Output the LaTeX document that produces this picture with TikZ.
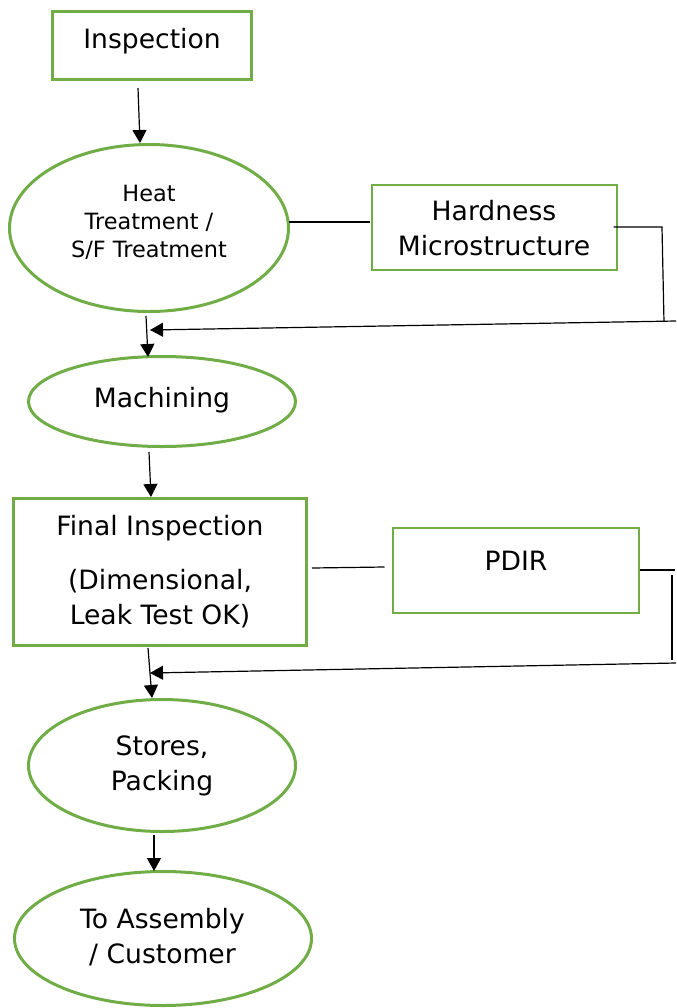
\documentclass[tikz,border=0pt]{standalone}
\usepackage{fontspec}
\setmainfont{DejaVu Sans}
\usetikzlibrary{shapes.geometric,arrows.meta}
\definecolor{leaf}{HTML}{70AD47}
\tikzset{
  % one unit = one grid step, y grows downward
  box/.style={draw=leaf, line width=1.5pt, rectangle, inner sep=0pt},
  thinbox/.style={draw=leaf, line width=1pt, rectangle, inner sep=0pt},
  oval/.style={draw=leaf, line width=1.5pt, ellipse, inner sep=0pt},
  txt/.style={align=center, inner sep=0pt, font=\fontsize{13.3}{17.5}\selectfont},
  smalltxt/.style={align=center, inner sep=0pt, font=\fontsize{11.2}{14}\selectfont},
  link/.style={draw=black, line width=0.6pt},
  arr/.style={link, -{Triangle[length=6.5pt,width=7pt]}}
}
\begin{document}
\begin{tikzpicture}[x=0.5pt, y=-0.5pt]
\useasboundingbox (0,0) rectangle (676,1008);

% process shapes
\node[box, minimum width=99.5pt, minimum height=34pt] (insp) at (152,45.5) {};
\node[oval, minimum width=139.5pt, minimum height=83.5pt] (heat) at (149,228) {};
\node[thinbox, minimum width=122.5pt, minimum height=42.5pt] (hard) at (494,227) {};
\node[oval, minimum width=133.5pt, minimum height=45pt] (mach) at (162,401.5) {};
\node[box, minimum width=146.5pt, minimum height=73.5pt] (final) at (160,572) {};
\node[thinbox, minimum width=123pt, minimum height=42.5pt] (pdir) at (515.5,570) {};
\node[oval, minimum width=133.5pt, minimum height=66pt] (stores) at (162,765.5) {};
\node[oval, minimum width=148.5pt, minimum height=67pt] (asm) at (163,938.5) {};

% labels (placed on the baseline of their last line)
\node[txt, anchor=base] (insptxt) at (152,48) {Inspection};
\node[smalltxt, anchor=base] (heattxt) at (149,257) {Heat\\Treatment /\\S/F Treatment};
\node[txt, anchor=base] (hardtxt) at (494,255) {Hardness\\Microstructure};
\node[txt, anchor=base] (machtxt) at (162,407) {Machining};
\node[txt, anchor=base] (finaltxt) at (160,624) {Final Inspection\\[9.5pt](Dimensional,\\Leak Test OK)};
\node[txt, anchor=base] (pdirtxt) at (516,570) {PDIR};
\node[txt, anchor=base] (storestxt) at (162,790) {Stores,\\Packing};
\node[txt, anchor=base] (asmtxt) at (162.5,963) {To Assembly\\/ Customer};

% free ends of the feedback loops
\coordinate (hcorner) at (662,227);
\coordinate (hdown) at (664,322);
\coordinate (hedge) at (676,321);
\coordinate (htip) at (150,330);
\coordinate (pend) at (675,570);
\coordinate (ptop) at (672,575);
\coordinate (pbot) at (672,660);
\coordinate (pedge) at (676,663);
\coordinate (ptip) at (150,673);

% main flow
\draw[arr] ([shift={(-14,7)}]insp.south) -- ([shift={(-9,0)}]heat.north);
\draw[arr] ([shift={(-3,3)}]heat.south) -- ([shift={(-14,2)}]mach.north);
\draw[arr] ([shift={(-13,4)}]mach.south) -- ([shift={(-9,0)}]final.north);
\draw[arr] ([shift={(-12,1)}]final.south) -- ([shift={(-10,0)}]stores.north);
\draw[arr] ([shift={(-8,2)}]stores.south) -- ([shift={(-9,1)}]asm.north);

% side checks
\draw[link] ([shift={(-1,-6)}]heat.east) -- ([shift={(-1,-5)}]hard.west);
\draw[link] ([shift={(-4,0)}]hard.east) -- (hcorner) -- (hdown);
\draw[arr] (hedge) -- (htip);

\draw[link] ([shift={(4,-4)}]final.east) -- ([shift={(-7,-3)}]pdir.west);
\draw[link] (pdir.east) -- (pend);
\draw[link] (ptop) -- (pbot);
\draw[arr] (pedge) -- (ptip);
\end{tikzpicture}
\end{document}
